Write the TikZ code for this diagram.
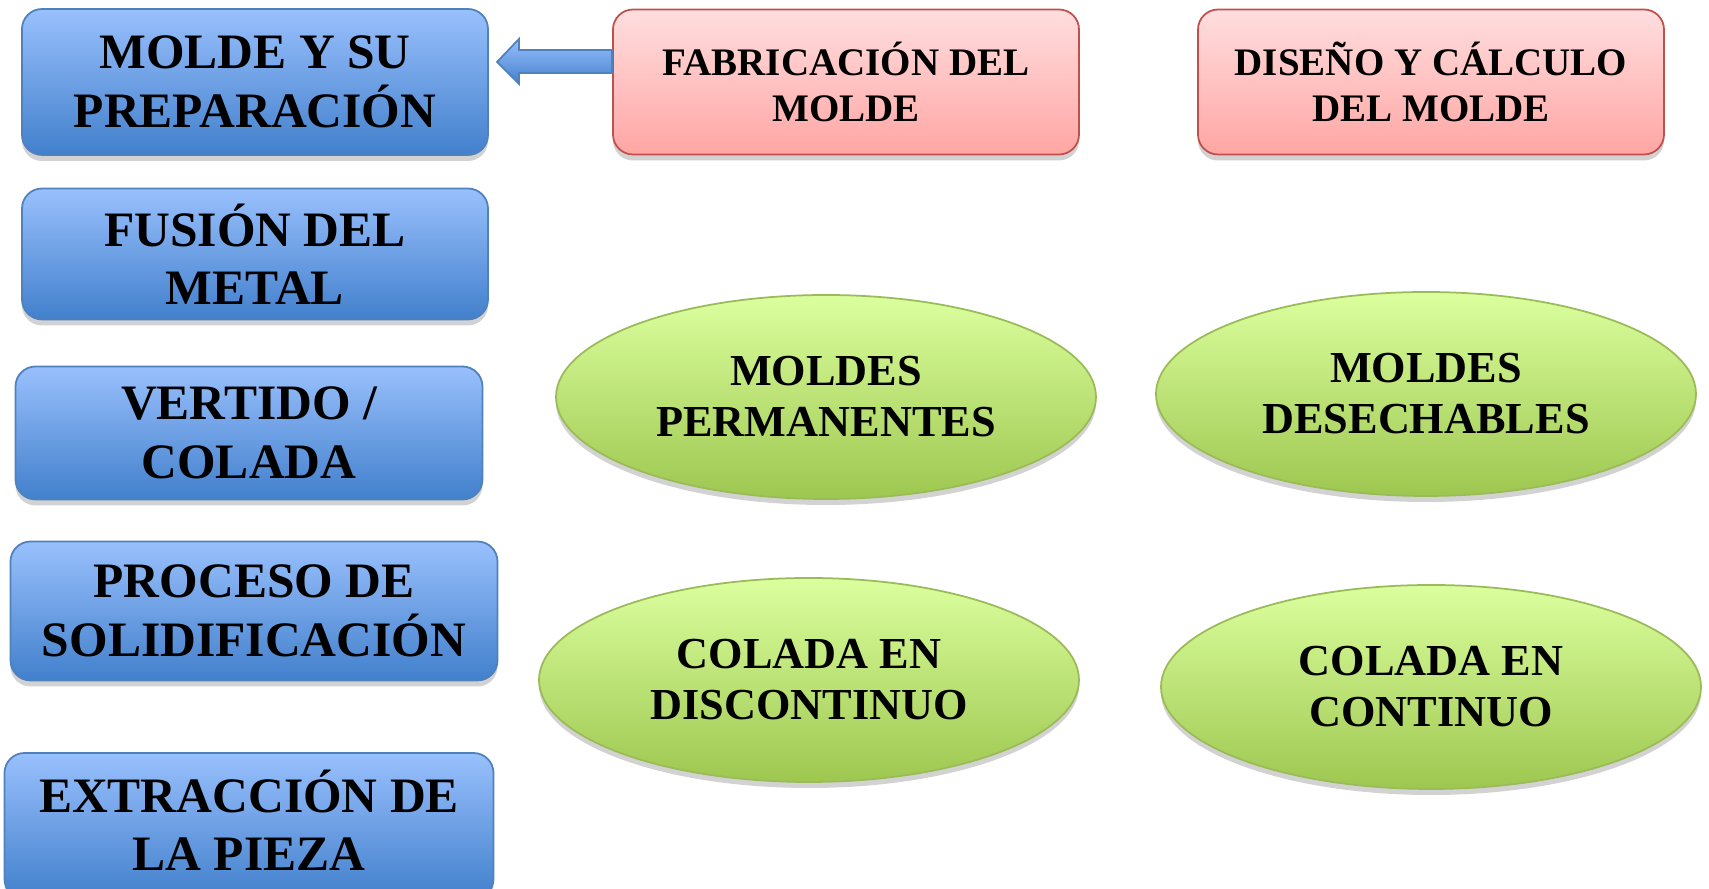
\documentclass[tikz,border=0pt]{standalone}
\usepackage{fontspec}
\setmainfont{Liberation Serif}
\usetikzlibrary{shapes.geometric,shadows}
\definecolor{bluetop}{RGB}{153,192,253}
\definecolor{bluebot}{RGB}{66,128,204}
\definecolor{blueline}{RGB}{79,129,189}
\definecolor{pinktop}{RGB}{255,222,222}
\definecolor{pinkbot}{RGB}{255,166,164}
\definecolor{pinkline}{RGB}{192,80,77}
\definecolor{greentop}{RGB}{219,255,158}
\definecolor{greenbot}{RGB}{158,199,80}
\definecolor{greenline}{RGB}{155,187,89}
\tikzset{
  softshadow/.style={drop shadow={opacity=0.25, shadow xshift=0mm, shadow yshift=-0.6mm, fill=black!70}},
  bluebox/.style={draw=blueline, line width=0.5pt, rounded corners=2mm, top color=bluetop, bottom color=bluebot,
     softshadow, align=center, inner sep=0pt, font=\bfseries\fontsize{14.1pt}{16.6pt}\selectfont},
  pinkbox/.style={draw=pinkline, line width=0.5pt, rounded corners=2mm, top color=pinktop, bottom color=pinkbot,
     softshadow, align=center, inner sep=0pt, minimum width=46.6mm, minimum height=14.5mm,
     font=\bfseries\fontsize{11.1pt}{13.2pt}\selectfont},
  greenell/.style={ellipse, draw=greenline, line width=0.5pt, top color=greentop, bottom color=greenbot,
     softshadow, align=center, inner sep=0pt, minimum width=54mm, minimum height=20.4mm,
     font=\bfseries\fontsize{12.6pt}{14.5pt}\selectfont},
  blockarrow/.style={draw=blueline, line width=0.5pt, top color=bluetop, bottom color=bluebot, line join=miter}
}
\begin{document}
\begin{tikzpicture}[x=0.1mm, y=-0.1mm]
\useasboundingbox (0,0) rectangle (1709,889);
\clip (0,0) rectangle (1709,889);
% left column
\node[bluebox, minimum width=46.6mm, minimum height=14.6mm] (m1) at (255,82) {MOLDE Y SU\\PREPARACIÓN};
\node[bluebox, minimum width=46.6mm, minimum height=13.1mm] (m2) at (255,254) {FUSIÓN DEL\\METAL};
\node[bluebox, minimum width=46.7mm, minimum height=13.3mm] (m3) at (249,433) {VERTIDO /\\COLADA};
\node[bluebox, minimum width=48.7mm, minimum height=13.9mm] (m4) at (254,611) {PROCESO DE\\SOLIDIFICACIÓN};
\node[bluebox, minimum width=48.9mm, minimum height=14.6mm] (m5) at (249,826) {};
\node[font=\bfseries\fontsize{14.1pt}{16.6pt}\selectfont, align=center, inner sep=0pt] (m5t) at (249,820) {EXTRACCIÓN DE\\LA PIEZA};
% top pink boxes
\node[pinkbox] (f1) at (846,82) {FABRICACIÓN DEL\\MOLDE};
\node[pinkbox] (d1) at (1431,82) {DISEÑO Y CÁLCULO\\DEL MOLDE};
% block arrow from f1 to m1
\coordinate (tip) at (497,62);
\draw[blockarrow] (f1.west |- 0,50) -- (519,50) -- (519,39) -- (tip) -- (519,84) -- (519,73) -- (f1.west |- 0,73) -- cycle;
% ellipses
\node[greenell] (e1) at (826,397) {MOLDES\\PERMANENTES};
\node[greenell] (e2) at (1426,394) {MOLDES\\DESECHABLES};
\node[greenell] (e3) at (809,680) {COLADA EN\\DISCONTINUO};
\node[greenell] (e4) at (1431,687) {COLADA EN\\CONTINUO};
\end{tikzpicture}
\end{document}
